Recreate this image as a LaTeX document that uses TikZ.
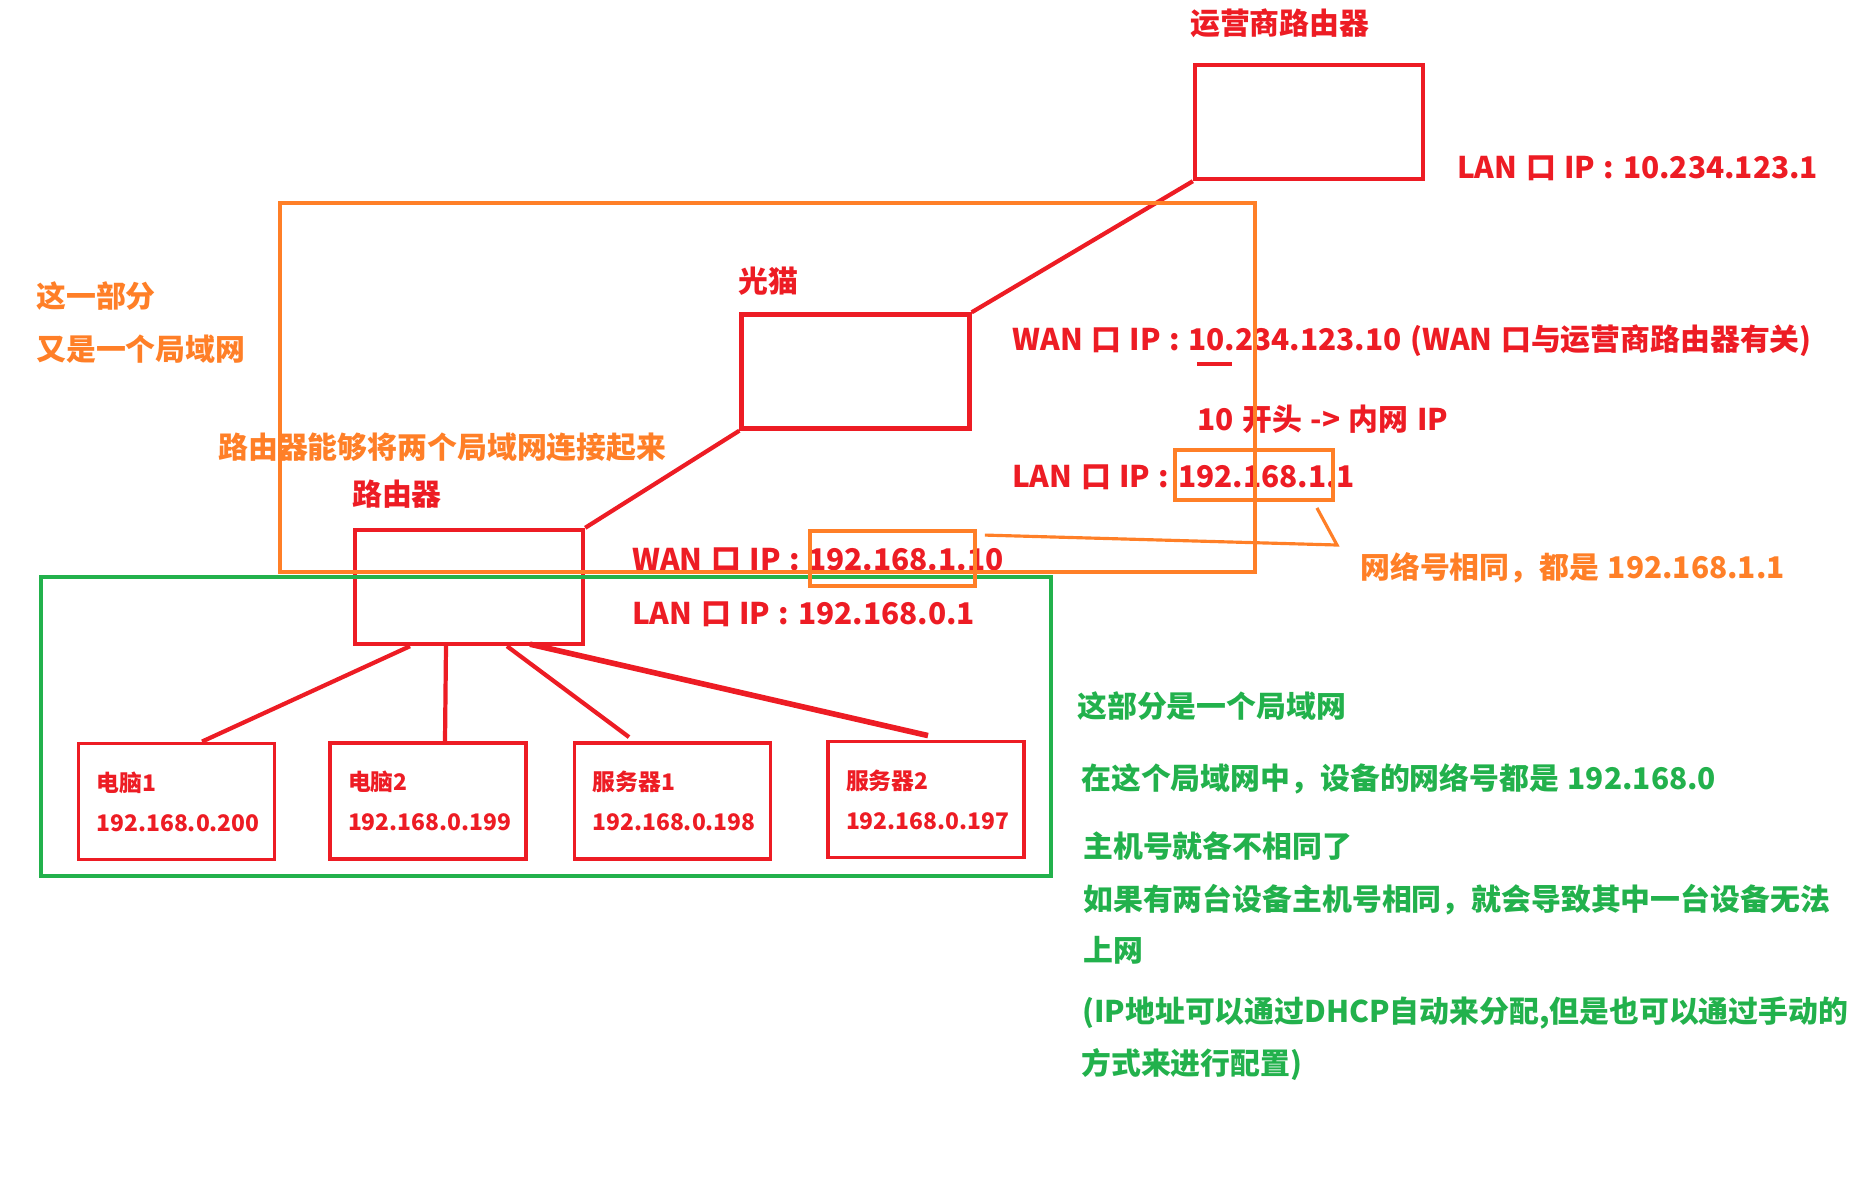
\documentclass[tikz,border=0pt]{standalone}
\usepackage{fontspec}
\setmainfont{Noto Sans CJK SC}[WordSpace=1.25]
\usetikzlibrary{positioning,calc}
\definecolor{NetRed}{RGB}{237,28,36}
\definecolor{NetOrange}{RGB}{255,127,39}
\definecolor{NetGreen}{RGB}{34,177,76}
\tikzset{
  device/.style={draw=NetRed,line width=2.5pt,minimum width=4.56cm,
    minimum height=2.28cm,inner sep=0pt},
  host/.style={draw=NetRed,line width=2.2pt,minimum width=3.92cm,
    minimum height=2.32cm,text width=3.2cm,inner xsep=0.36cm,inner ysep=0pt,
    align=left,text=NetRed,font=\bfseries\fontsize{13pt}{22.8pt}\selectfont},
  note/.style={inner sep=0pt,anchor=base west,
    font=\bfseries\fontsize{17pt}{20pt}\selectfont},
  region/.style={line width=2.6pt,inner sep=0pt},
  hlbox/.style={draw=NetOrange,line width=2.2pt,inner sep=0pt},
  link/.style={NetRed,line width=2.4pt}
}

\begin{document}
\begin{tikzpicture}[x=0.02cm,y=-0.02cm]
  \useasboundingbox (0,0) rectangle (1850,1188);
  % routers and modem
  \node[device] (isp) at (1309,122) {};
  \node[device] (modem) at (855.5,371.5) {};
  \node[device] (router) at (469,587) {};
  \node[note,text=NetRed] (isptitle) at ($(isp.north west)+(-3,-28.5)$) {运营商路由器};
  \node[note,text=NetRed] (modemtitle) at ($(modem.north west)+(-1,-20)$) {光猫};
  \node[note,text=NetRed] (routertitle) at ($(router.north west)+(-1,-22)$) {路由器};
  % hosts in the lan
  \node[host] (pc1) at (176.5,801.5) {电脑1\\192.168.0.200};
  \node[host] (pc2) at (428,801) {电脑2\\192.168.0.199};
  \node[host] (srv1) at (672.5,801) {服务器1\\192.168.0.198};
  \node[host] (srv2) at (926,799.5) {服务器2\\192.168.0.197};
  % ip notes
  \node[note,text=NetRed] (ispip) at (1457,178) {LAN 口 IP : 10.234.123.1};
  \node[note,text=NetRed] (modemwan) at (1012,350) {WAN 口 IP : 10.234.123.10 (WAN 口与运营商路由器有关)};
  \node[note,text=NetRed] (prefix) at (1197,430) {10 开头 -> 内网 IP};
  \node[note,text=NetRed] (modemlan) at (1012,487) {LAN 口 IP : 192.168.1.1};
  \node[note,text=NetRed] (routerwan) at (632,570) {WAN 口 IP : 192.168.1.10};
  \node[note,text=NetRed] (routerlan) at (632,624) {LAN 口 IP : 192.168.0.1};
  \node[note,text=NetOrange] (part1) at (36,307) {这一部分};
  \node[note,text=NetOrange] (part2) at (36,360) {又是一个局域网};
  \node[note,text=NetOrange] (joins) at (218,458) {路由器能够将两个局域网连接起来};
  \node[note,text=NetOrange] (same) at (1360,578) {网络号相同，都是 192.168.1.1};
  % notes on the lan
  \node[note,text=NetGreen] (lan1) at (1077,717) {这部分是一个局域网};
  \node[note,text=NetGreen] (lan2) at (1081,789) {在这个局域网中，设备的网络号都是 192.168.0};
  \node[note,text=NetGreen] (lan3) at (1083,857) {主机号就各不相同了};
  \node[note,text=NetGreen] (lan4) at (1083,910) {如果有两台设备主机号相同，就会导致其中一台设备无法};
  \node[note,text=NetGreen] (lan5) at (1083,961) {上网};
  \node[note,text=NetGreen] (lan6) at (1082,1022) {(IP地址可以通过DHCP自动来分配,但是也可以通过手动的};
  \node[note,text=NetGreen] (lan7) at (1081,1074) {方式来进行配置)};
  % cables
  \draw[link] (isp.south west) -- (modem.north east);
  \draw[link] (modem.south west) -- (router.north east);
  \draw[link] ($(router.south)+(-59,0)$) -- ($(pc1.north)+(25.5,0)$);
  \draw[link] ($(router.south)+(-23,0)$) -- ($(pc2.north)+(17,0)$);
  \draw[link] ($(router.south)+(38,0)$) -- ($(srv1.north)+(-43.5,-4)$);
  \draw[link,line width=3.2pt] ($(router.south)+(61,-2)$) -- ($(srv2.north)+(2,-4)$);
  \draw[NetRed,line width=2pt] (1197,364) -- (1232,364);
  % the two networks
  \node[region,draw=NetGreen,minimum width=20.2cm,minimum height=5.98cm] (lan) at (546,726.5) {};
  \node[region,draw=NetOrange,minimum width=19.5cm,minimum height=7.38cm] (wan) at (767.5,387.5) {};
  \node[hlbox,minimum width=3.3cm,minimum height=1.1cm] (wanhl) at (892.5,558.5) {};
  \node[hlbox,minimum width=3.16cm,minimum height=1cm] (lanhl) at (1254,475) {};
  \coordinate (bend) at (1337,545);
  \draw[NetOrange,line width=1.8pt] ($(wanhl.north east)+(8,6)$) -- (bend) -- ($(lanhl.south east)+(-18,6)$);
\end{tikzpicture}
\end{document}
